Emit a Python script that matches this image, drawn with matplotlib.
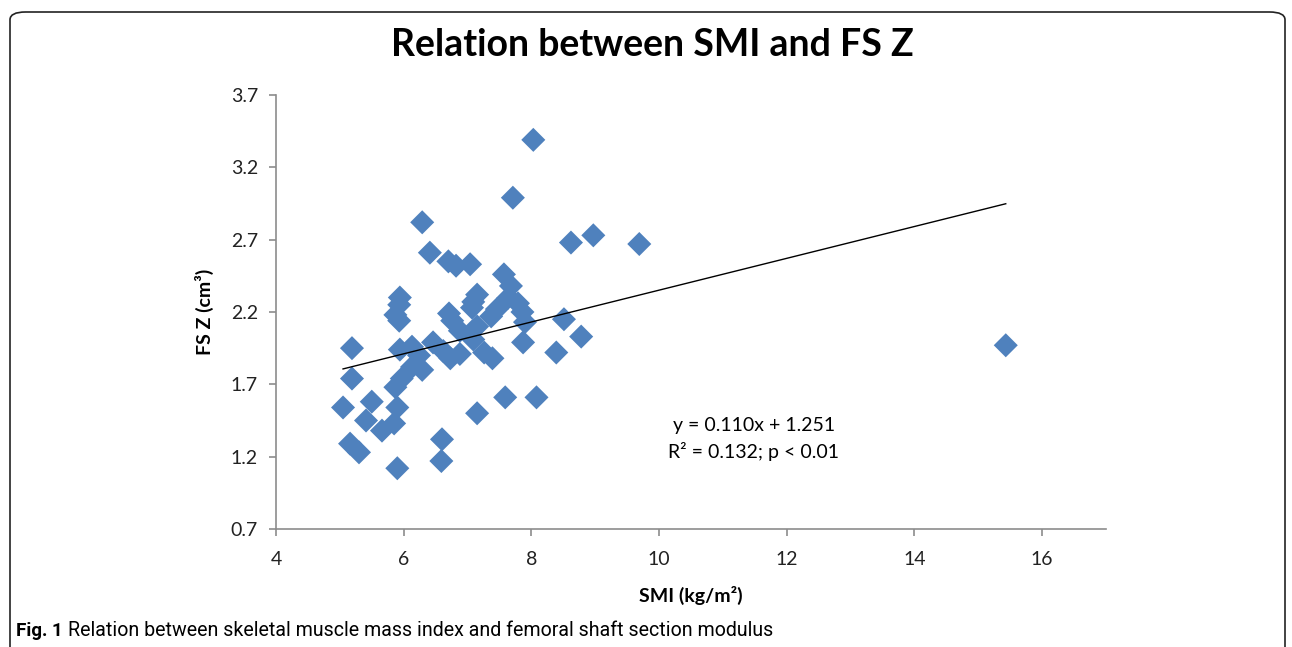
import matplotlib
matplotlib.use("Agg")
import matplotlib.pyplot as plt
from matplotlib.patches import FancyBboxPatch
import numpy as np

# ---- data ----
smi = [8.03, 7.71, 6.29, 6.41, 6.70, 6.82, 7.04, 8.62, 8.97, 9.69, 15.43,
       7.57, 7.68, 7.64, 7.79, 7.86, 7.90, 5.94, 5.93, 5.87, 5.93,
       7.15, 7.09, 7.07, 6.71, 6.76, 7.46, 7.37, 7.15, 6.88, 8.51, 8.78,
       7.87, 8.39, 6.46, 7.09, 5.19, 5.94, 6.13, 6.24, 6.62, 6.73, 6.88,
       7.26, 7.39, 6.13, 6.29, 5.97, 5.87, 5.19, 7.59, 8.08, 5.50, 5.05,
       5.90, 7.15, 5.41, 5.85, 5.66, 5.16, 5.30, 6.60, 6.59, 5.90]
fsz = [3.39, 2.99, 2.82, 2.61, 2.55, 2.52, 2.53, 2.68, 2.73, 2.67, 1.97,
       2.46, 2.38, 2.30, 2.26, 2.20, 2.13, 2.30, 2.25, 2.18, 2.14,
       2.32, 2.27, 2.23, 2.19, 2.14, 2.22, 2.17, 2.10, 2.07, 2.15, 2.03,
       1.99, 1.92, 1.99, 2.01, 1.95, 1.94, 1.96, 1.90, 1.93, 1.88, 1.91,
       1.92, 1.88, 1.82, 1.80, 1.74, 1.68, 1.74, 1.61, 1.61, 1.58, 1.54,
       1.54, 1.50, 1.45, 1.43, 1.38, 1.29, 1.23, 1.32, 1.17, 1.12]
slope = 0.110
intercept = 1.251
x_ticks = [4, 6, 8, 10, 12, 14, 16]
y_ticks = [0.7, 1.2, 1.7, 2.2, 2.7, 3.2, 3.7]

title = "Relation between SMI and FS Z"
xlabel = "SMI (kg/m²)"
ylabel = "FS Z (cm³)"
eq_text = "y = 0.110x + 1.251\nR² = 0.132; p < 0.01"

plt.rcParams['font.family'] = ['Lato', 'DejaVu Sans']

fig = plt.figure(figsize=(12.92, 6.47), dpi=100)

# rounded outer frame
frame = FancyBboxPatch((10 / 1292, -0.05), 1275 / 1292, (647 - 12) / 647 + 0.05,
                       boxstyle="round,pad=0,rounding_size=0.012",
                       transform=fig.transFigure, fill=False,
                       edgecolor='#222222', linewidth=1.2, clip_on=False)
fig.patches.append(frame)

ax = fig.add_axes([276 / 1292, 1 - 529 / 647, 830 / 1292, 434 / 647])

ax.scatter(smi, fsz, marker='D', s=150, color='#4F81BD', edgecolors='none', zorder=2)

xl = np.array([min(smi), max(smi)])
ax.plot(xl, slope * xl + intercept, color='black', linewidth=1.0, zorder=3)

ax.set_xlim(4, 17)
ax.set_ylim(0.7, 3.7)
ax.set_xticks(x_ticks)
ax.set_yticks(y_ticks)
ax.set_xticklabels([str(t) for t in x_ticks])
ax.set_yticklabels([f"{t:.1f}" for t in y_ticks])

for s in ['top', 'right']:
    ax.spines[s].set_visible(False)
for s in ['left', 'bottom']:
    ax.spines[s].set_color('#8c8c8c')
    ax.spines[s].set_linewidth(1.2)
ax.tick_params(axis='both', direction='out', length=5, width=1.2, color='#8c8c8c',
               labelsize=14, labelcolor='#222222', pad=8)
ax.tick_params(axis='x', pad=11)

ax.set_xlabel(xlabel, fontsize=14, fontweight='bold', labelpad=13)
ax.set_ylabel(ylabel, fontsize=14, fontweight='bold', labelpad=12)

fig.text(652 / 1292, 1 - 45 / 647, title, ha='center', va='center',
         fontsize=27, fontweight='bold')

ax.text(754 / 1292, 1 - 439 / 647, eq_text, transform=fig.transFigure,
        ha='center', va='center', fontsize=14, linespacing=1.45)

fig.text(16 / 1292, 1 - 631 / 647, "Fig. 1", ha='left', va='center',
         fontsize=13.5, fontweight='bold', family=['Roboto', 'DejaVu Sans'])
fig.text(68 / 1292, 1 - 631 / 647,
         "Relation between skeletal muscle mass index and femoral shaft section modulus",
         ha='left', va='center', fontsize=14.1, family=['Roboto', 'DejaVu Sans'])

fig.savefig("out.png", dpi=100)
